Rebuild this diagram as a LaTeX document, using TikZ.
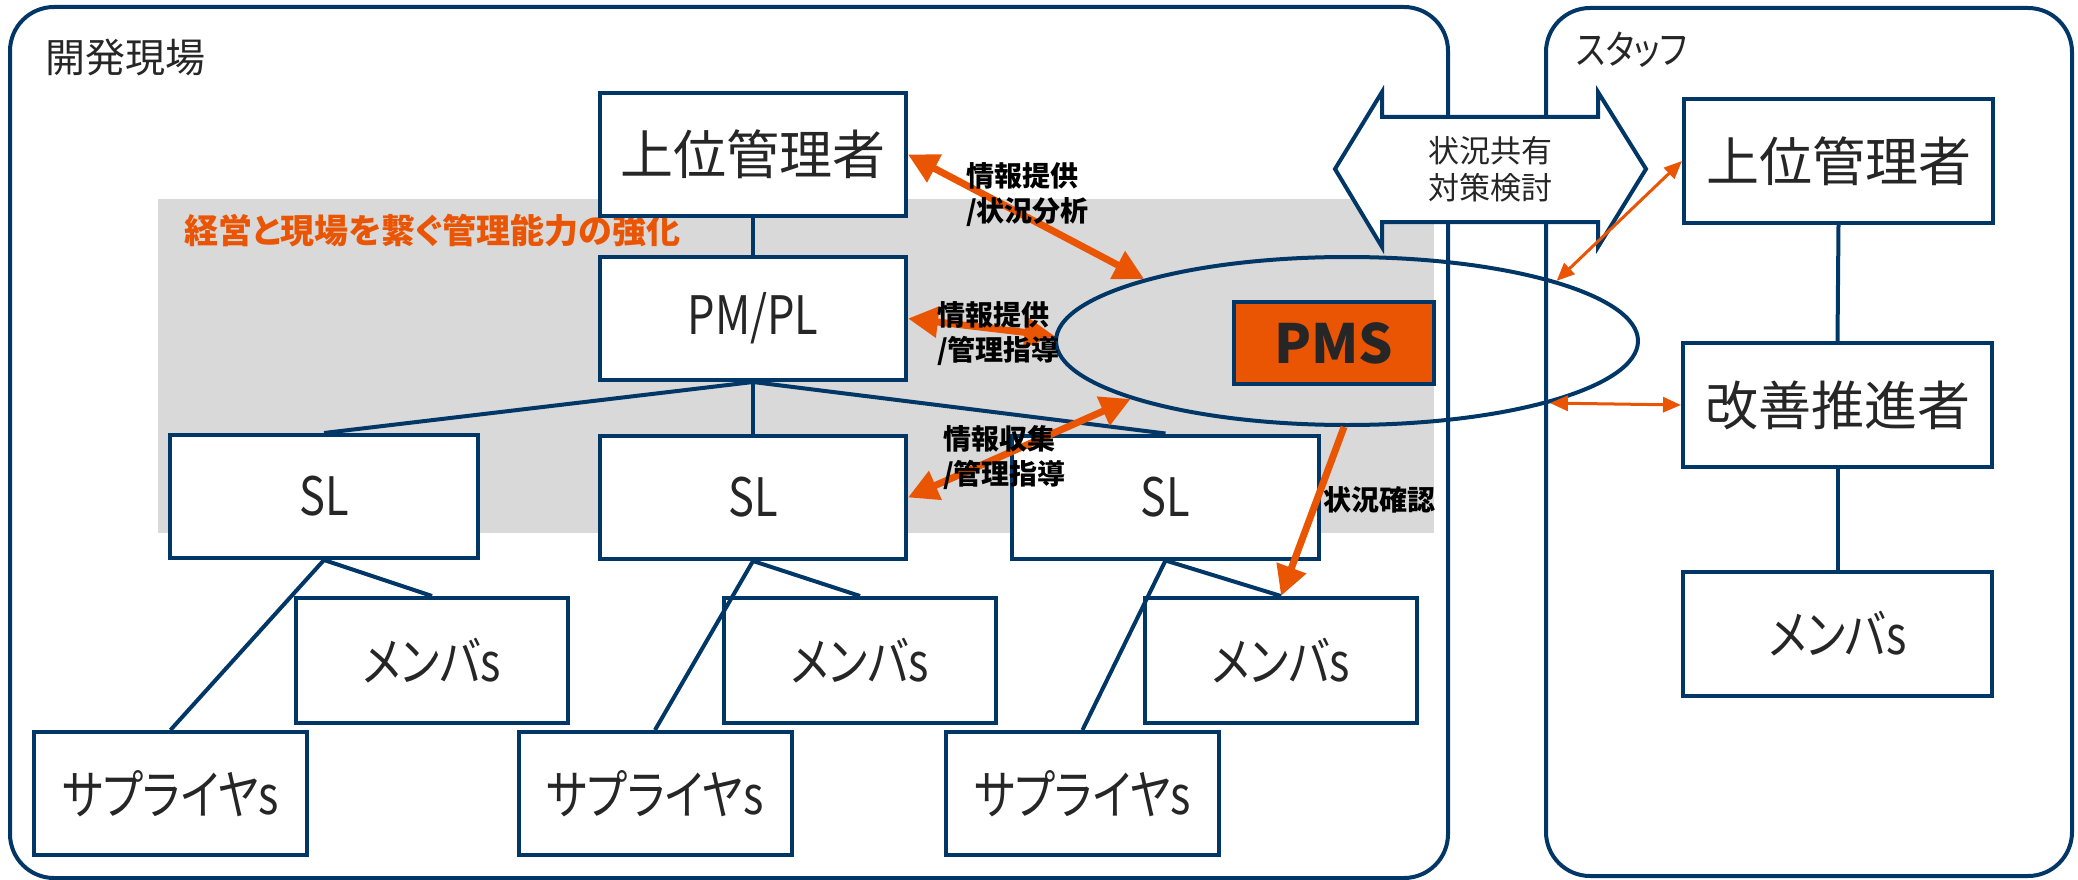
\documentclass[tikz,border=0pt]{standalone}
\usepackage{fontspec}
\setmainfont{Noto Sans CJK JP}[RawFeature=+palt]
\newfontfamily\jpcond{Noto Sans CJK JP}[RawFeature=+palt,FakeStretch=0.82]
\usetikzlibrary{arrows.meta,shapes.geometric}
\definecolor{dblue}{HTML}{003767}
\definecolor{orng}{HTML}{EA5504}
\definecolor{gbg}{HTML}{D9D9D9}
\definecolor{txt}{HTML}{262626}
\newcommand\fsz[2]{\fontsize{#1}{#2}\selectfont}
\begin{document}
\begin{tikzpicture}[x=1pt,y=-1pt,
  panel/.style={draw=dblue,line width=4pt,rounded corners=44pt},
  box/.style={draw=dblue,line width=4pt,fill=white,inner sep=0pt,
    minimum width=306pt,minimum height=123pt,text=txt,font=\fsz{53}{60}},
  cbox/.style={box,font=\jpcond\fsz{53}{60}},
  mbox/.style={cbox,minimum width=272pt,minimum height=125pt},
  sbox/.style={cbox,minimum width=273pt,minimum height=123pt},
  rbox/.style={box,minimum width=309pt,minimum height=123pt},
  link/.style={draw=dblue,line width=4pt},
  bigarrow/.style={draw=orng,line width=7pt},
  thinarrow/.style={draw=orng,line width=3pt,{Triangle[length=18pt,width=15pt]}-{Triangle[length=18pt,width=15pt]}},
  lbl/.style={font=\bfseries\fsz{28}{35},text=black,align=left,inner sep=0pt,anchor=west},
  ptitle/.style={font=\fsz{40}{46},text=txt,inner sep=0pt,anchor=west}
]
\useasboundingbox (0,0) rectangle (2078,880);
% panels
\draw[panel] (10,7) rectangle (1448,878);
\draw[panel] (1546,8) rectangle (2072,876);
\node[ptitle] (devtitle) at (45,57) {開発現場};
\node[ptitle,font=\jpcond\fsz{40}{46}] (stafftitle) at (1576,50) {スタッフ};
% gray band
\fill[gbg] (158,199) rectangle (1434,533);
\node[font=\bfseries\fsz{34}{40},text=orng,inner sep=0pt,anchor=west] (band) at (184,231) {経営と現場を繋ぐ管理能力の強化};
% boxes
\node[box] (topL) at (753,154.5) {上位管理者};
\node[cbox] (pmpl) at (753,318.5) {PM/PL};
\node[cbox,minimum width=308pt] (sl1) at (324,496.5) {SL};
\node[cbox] (sl2) at (753,497.5) {SL};
\node[cbox,minimum width=307pt] (sl3) at (1165.5,497) {SL};
\node[mbox] (m1) at (432,660.5) {メンバs};
\node[mbox] (m2) at (860,660.5) {メンバs};
\node[mbox] (m3) at (1281,660.5) {メンバs};
\node[sbox] (s1) at (170.5,793.5) {サプライヤs};
\node[sbox] (s2) at (655,793.5) {サプライヤs};
\node[sbox] (s3) at (1082.5,793.5) {サプライヤs};
\node[rbox] (rtop) at (1838.5,161) {上位管理者};
\node[rbox,minimum height=124pt] (rkai) at (1837.5,405) {改善推進者};
\node[rbox,minimum height=124pt,font=\jpcond\fsz{53}{60}] (rmem) at (1837.5,634) {メンバs};
% links
\draw[link] (topL.south) -- (pmpl.north);
\draw[link] (pmpl.south) -- (sl1.north);
\draw[link] (pmpl.south) -- (sl2.north);
\draw[link] (pmpl.south) -- (sl3.north);
\draw[link] (sl1.south) -- (m1.north);
\draw[link] (sl1.south) -- (s1.north);
\draw[link] (sl2.south) -- (m2.north);
\draw[link] (sl2.south) -- (s2.north);
\draw[link] (sl3.south) -- (m3.north);
\draw[link] (sl3.south) -- (s3.north);
\draw[link] (rtop.south) -- (rkai.north);
\draw[link] (rkai.south) -- (rmem.north);
% ellipse and PMS
\node[ellipse,draw=dblue,line width=4pt,minimum width=582pt,minimum height=168pt,inner sep=0pt] (pmsell) at (1347,341) {};
\node[draw=dblue,line width=4pt,fill=orng,minimum width=200pt,minimum height=82pt,inner sep=0pt,
  font=\bfseries\fsz{54}{60},text=txt] (pms) at (1334,343) {PMS};
% double arrow
\draw[draw=dblue,line width=4pt,fill=white,line join=miter]
  (1335,169) -- (1382,92) -- (1382,117) -- (1598,117) -- (1598,92) -- (1646,169)
  -- (1598,247) -- (1598,222) -- (1382,222) -- (1382,247) -- cycle;
\node[font=\fsz{31}{37},text=txt,align=center,inner sep=0pt] (share) at (1490,169) {状況共有\\対策検討};
% orange arrows
\draw[bigarrow,{Triangle[length=30pt,width=30pt]}-{Triangle[length=30pt,width=30pt]}] (topL.east) -- (pmsell.163);
\draw[bigarrow,{Triangle[length=30pt,width=30pt]}-{Triangle[length=30pt,width=30pt]}] (pmpl.east) -- (pmsell.179);
\draw[bigarrow,{Triangle[length=30pt,width=30pt]}-{Triangle[length=30pt,width=30pt]}] (sl2.east) -- (pmsell.195);
\draw[bigarrow,-{Triangle[length=30pt,width=30pt]}] (pmsell.268) -- (m3.north);
\draw[thinarrow] (rtop.west) -- (pmsell.16);
\draw[thinarrow] (rkai.west) -- (pmsell.343);
% labels
\node[lbl] (l1) at (966,195) {情報提供\\/状況分析};
\node[lbl] (l2) at (937,334) {情報提供\\/管理指導};
\node[lbl] (l3) at (943,458) {情報収集\\/管理指導};
\node[lbl] (l4) at (1323,500) {状況確認};
\end{tikzpicture}
\end{document}
